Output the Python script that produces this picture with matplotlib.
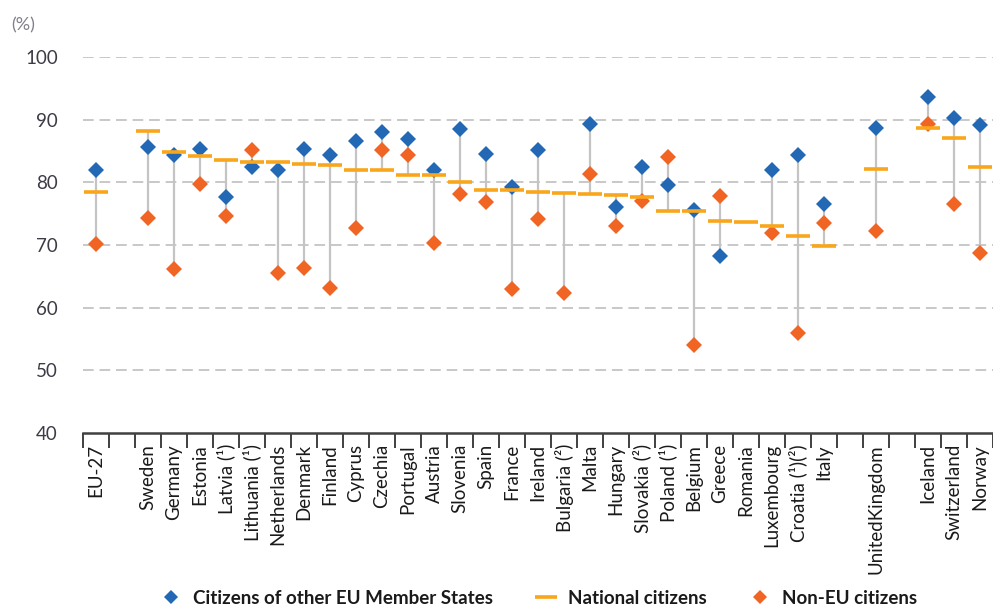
import numpy as np
import matplotlib
matplotlib.use('Agg')
import matplotlib.pyplot as plt
from matplotlib.lines import Line2D

plt.rcParams['font.family'] = ['Lato', 'DejaVu Sans']

countries = ['EU-27', '', 'Sweden', 'Germany', 'Estonia', 'Latvia (¹)', 'Lithuania (¹)',
             'Netherlands', 'Denmark', 'Finland', 'Cyprus', 'Czechia', 'Portugal', 'Austria',
             'Slovenia', 'Spain', 'France', 'Ireland', 'Bulgaria (²)', 'Malta', 'Hungary',
             'Slovakia (²)', 'Poland (¹)', 'Belgium', 'Greece', 'Romania', 'Luxembourg',
             'Croatia (¹)(²)', 'Italy', '', 'UnitedKingdom', '', 'Iceland', 'Switzerland', 'Norway']
nan = np.nan
other_eu = [81.9, nan, 85.6, 84.3, 85.3, 77.7, 82.4, 81.9, 85.3, 84.4, 86.6, 88.0, 86.9, 81.9,
            88.5, 84.5, 79.2, 85.2, nan, 89.3, 76.1, 82.4, 79.5, 75.6, 68.3, nan, 82.0,
            84.4, 76.5, nan, 88.7, nan, 93.6, 90.3, 89.2]
national = [78.4, nan, 88.2, 84.8, 84.2, 83.6, 83.2, 83.2, 83.0, 82.7, 81.9, 81.9, 81.2, 81.2,
            80.0, 78.8, 78.8, 78.5, 78.3, 78.1, 77.9, 77.7, 75.4, 75.4, 73.9, 73.6, 73.0,
            71.4, 69.9, nan, 82.2, nan, 88.6, 87.1, 82.5]
non_eu = [70.2, nan, 74.3, 66.2, 79.8, 74.7, 85.1, 65.6, 66.3, 63.1, 72.7, 85.1, 84.3, 70.3,
          78.2, 76.9, 63.0, 74.1, 62.4, 81.3, 73.1, 77.1, 84.1, 54.1, 77.8, nan, 71.9,
          55.9, 73.5, nan, 72.2, nan, 89.3, 76.6, 68.7]

blue = '#2268b4'
orange = '#f06424'
gold = '#faa61a'
text_col = '#3c3c46'

fig = plt.figure(figsize=(9.93, 6.08), dpi=100)
ax = fig.add_axes([83 / 993, 1 - 433 / 608, 910 / 993, 376 / 608])

x = np.arange(len(countries))
vals = np.array([other_eu, national, non_eu])
lo = np.nanmin(vals, axis=0)
hi = np.nanmax(vals, axis=0)
ax.vlines(x, lo, hi, color='#c4c4c4', lw=1.6, zorder=2)

ax.plot(x, other_eu, 'D', color=blue, ms=8.3, mew=0, zorder=3)
ax.plot(x, non_eu, 'D', color=orange, ms=8.3, mew=0, zorder=3)
ax.plot(x, national, '_', color=gold, ms=17, mew=2.6, zorder=4)

ax.set_xlim(-0.5, len(countries) - 0.5)
ax.set_ylim(40, 100)
ax.set_yticks(np.arange(40, 101, 10))
for v in range(50, 101, 10):
    ax.axhline(v, color='#c8c8c8', lw=1.4, ls=(0, (5.5, 3)), zorder=1)

ax.set_xticks(x)
ax.set_xticklabels(countries, rotation=90, va='top', ha='center', fontsize=13.5, color='#1a1a1a')
ax.set_xticks(np.arange(-0.5, len(countries)), minor=True)
ax.tick_params(axis='x', which='major', length=0, pad=8)
ax.tick_params(axis='x', which='minor', length=11, width=1.4, color='#404040')
ax.tick_params(axis='y', length=0, pad=18, labelsize=13.5, labelcolor=text_col)

for s in ['top', 'right', 'left']:
    ax.spines[s].set_visible(False)
ax.spines['bottom'].set_color('#404040')
ax.spines['bottom'].set_linewidth(1.8)

fig.text(11 / 993, 1 - 25 / 608, '(%)', fontsize=13, color='#80808c', va='center')

handles = [
    Line2D([], [], ls='none', marker='D', color=blue, ms=7, mew=0),
    Line2D([], [], ls='none', marker='_', color=gold, ms=16, mew=2.6),
    Line2D([], [], ls='none', marker='D', color=orange, ms=7, mew=0),
]
labels = ['Citizens of other EU Member States', 'National citizens', 'Non-EU citizens']
ax.legend(handles, labels, loc='center', bbox_to_anchor=(0.5, -0.44), ncol=3, frameon=False,
          prop={'weight': 'bold', 'size': 13.5}, handlelength=1.3, handletextpad=0.5,
          columnspacing=2.2, labelcolor='#1a1a1a')

fig.savefig('out.png', dpi=100)
